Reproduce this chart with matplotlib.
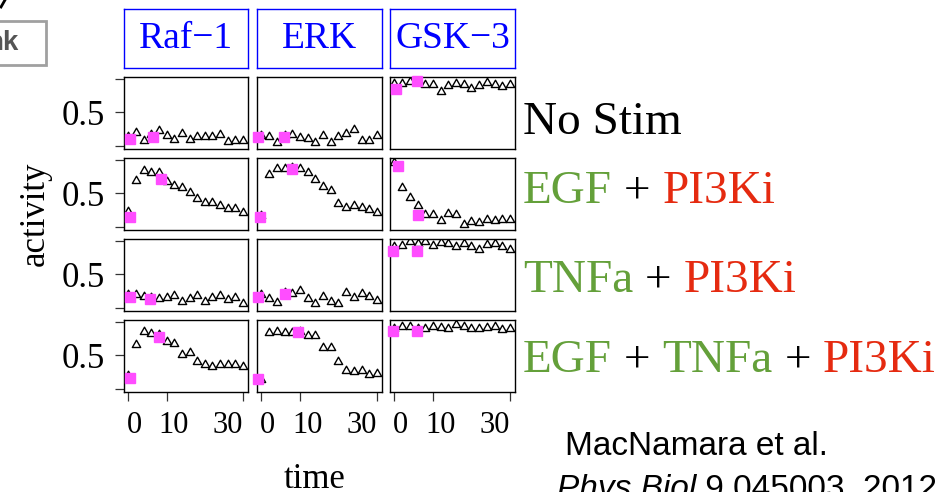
import matplotlib
matplotlib.use("Agg")
import matplotlib.pyplot as plt
from matplotlib.path import Path
from matplotlib.patches import Rectangle
from matplotlib.lines import Line2D

# time points (min) of the measured triangles
time = [0, 2, 4, 6, 8, 10, 12, 14, 16, 18, 20, 22, 24, 26, 28, 30]

proteins = ["Raf\u22121", "ERK", "GSK\u22123"]

# row 1: no stimulation
raf_nostim = [0.10, 0.165, 0.05, 0.13, 0.19, 0.115, 0.065, 0.15, 0.065, 0.10, 0.10, 0.10, 0.13, 0.03, 0.04, 0.04]
erk_nostim = [0.12, 0.10, 0.015, 0.12, 0.14, 0.09, 0.08, 0.015, 0.115, 0.015, 0.10, 0.15, 0.215, 0.05, 0.05, 0.115]
gsk_nostim = [0.90, 0.90, 0.93, 0.95, 0.88, 0.88, 0.78, 0.865, 0.89, 0.88, 0.815, 0.865, 0.915, 0.88, 0.85, 0.88]
# row 2: EGF + PI3Ki
raf_egf = [0.20, 0.65, 0.80, 0.77, 0.77, 0.64, 0.58, 0.55, 0.48, 0.39, 0.33, 0.33, 0.28, 0.24, 0.24, 0.18]
erk_egf = [0.13, 0.75, 0.84, 0.84, 0.85, 0.84, 0.78, 0.67, 0.56, 0.51, 0.31, 0.26, 0.28, 0.26, 0.23, 0.18]
gsk_egf = [0.93, 0.55, 0.40, 0.28, 0.145, 0.155, 0.065, 0.17, 0.145, 0.005, 0.045, 0.03, 0.08, 0.055, 0.08, 0.08]
# row 3: TNFa + PI3Ki
raf_tnf = [0.16, 0.16, 0.14, 0.12, 0.10, 0.115, 0.15, 0.065, 0.10, 0.15, 0.065, 0.115, 0.15, 0.085, 0.115, 0.025]
erk_tnf = [0.17, 0.10, 0.05, 0.19, 0.175, 0.225, 0.10, 0.035, 0.135, 0.065, 0.035, 0.19, 0.115, 0.175, 0.14, 0.075]
gsk_tnf = [0.88, 0.89, 0.95, 0.92, 0.95, 0.89, 0.94, 0.93, 0.875, 0.92, 0.875, 0.835, 0.915, 0.925, 0.875, 0.835]
# row 4: EGF + TNFa + PI3Ki
raf_both = [0.17, 0.625, 0.825, 0.795, 0.78, 0.675, 0.645, 0.475, 0.51, 0.375, 0.335, 0.295, 0.325, 0.325, 0.335, 0.295]
erk_both = [0.11, 0.81, 0.825, 0.81, 0.81, 0.825, 0.76, 0.76, 0.575, 0.575, 0.375, 0.245, 0.225, 0.245, 0.175, 0.195]
gsk_both = [0.87, 0.89, 0.89, 0.87, 0.87, 0.89, 0.875, 0.87, 0.92, 0.90, 0.865, 0.865, 0.875, 0.89, 0.85, 0.86]

# pink squares (two per panel): times and values
sq_t_nostim = [[0.3, 6.5], [-1.0, 5.9], [0.5, 5.9]]
sq_v_nostim = [[0.10, 0.13], [0.13, 0.13], [0.85, 0.97]]
sq_t_egf = [[0.3, 8.6], [-0.3, 8.0], [0.8, 6.2]]
sq_v_egf = [[0.145, 0.71], [0.145, 0.86], [0.91, 0.18]]
sq_t_tnf = [[0.3, 5.7], [-1.0, 6.0], [-0.3, 5.9]]
sq_v_tnf = [[0.165, 0.13], [0.165, 0.205], [0.855, 0.855]]
sq_t_both = [[0.3, 7.9], [-1.0, 9.4], [-0.3, 5.9]]
sq_v_both = [[0.165, 0.775], [0.145, 0.855], [0.865, 0.865]]

rows = [
    ([raf_nostim, erk_nostim, gsk_nostim], sq_t_nostim, sq_v_nostim),
    ([raf_egf, erk_egf, gsk_egf], sq_t_egf, sq_v_egf),
    ([raf_tnf, erk_tnf, gsk_tnf], sq_t_tnf, sq_v_tnf),
    ([raf_both, erk_both, gsk_both], sq_t_both, sq_v_both),
]

xticks = [0, 10, 30]
xtick_labels = ["0", "10", "30"]
xtick_label_pos = [1.6, 11.9, 26.1]   # labels sit a little off their ticks

GREEN = "#64A03A"
RED = "#E52A10"
PINK = "#FF4DFF"
row_labels = [
    [("No Stim", "black")],
    [("EGF", GREEN), (" + ", "black"), ("PI3Ki", RED)],
    [("TNFa", GREEN), (" + ", "black"), ("PI3Ki", RED)],
    [("EGF", GREEN), (" + ", "black"), ("TNFa", GREEN), (" + ", "black"), ("PI3Ki", RED)],
]
label_baselines = [134, 203, 292, 372]

W, H = 939, 492
fig = plt.figure(figsize=(W / 100, H / 100), dpi=100)
SERIF = "Liberation Serif"
SANS = "Liberation Sans"


def px_axes(x0, y0, x1, y1):
    return fig.add_axes([x0 / W, 1 - y1 / H, (x1 - x0) / W, (y1 - y0) / H])


def fx(x):
    return x / W


def fy(y):
    return 1 - y / H


# open triangle sitting on its data point
tri = Path([(-1, 0), (1, 0), (0, 1.75), (-1, 0)],
           [Path.MOVETO, Path.LINETO, Path.LINETO, Path.CLOSEPOLY])

cols_px = [(124, 248), (257, 382), (390, 515)]
rows_px = [(77, 149), (158, 230), (239, 311), (320, 392)]

for r, (series, sq_t, sq_v) in enumerate(rows):
    for c, vals in enumerate(series):
        ax = px_axes(cols_px[c][0], rows_px[r][0], cols_px[c][1], rows_px[r][1])
        ax.plot(time, vals, linestyle="none", marker=tri, markersize=10.5,
                markerfacecolor="none", markeredgecolor="black", markeredgewidth=1.0)
        ax.plot(sq_t[c], sq_v[c], linestyle="none", marker="s", markersize=7.8,
                color=PINK, clip_on=False, zorder=5)
        ax.set_xlim(-1.15, 31.3)
        ax.set_ylim(-0.045, 1.03)
        for s in ax.spines.values():
            s.set_linewidth(1.0)
        ax.tick_params(direction="out", length=6.5, width=0.9, color="#333333")
        if c == 0:
            ax.set_yticks([0, 0.5, 1])
            ax.set_yticklabels(["", "0.5", ""], fontfamily=SERIF, fontsize=25)
            ax.tick_params(axis="y", pad=7)
        else:
            ax.set_yticks([])
        if r == 3:
            ax.set_xticks(xticks)
            ax.set_xticklabels([])
            # labels placed by hand, baseline about 41 px under the panel
            for xp, lab in zip(xtick_label_pos, xtick_labels):
                ax.text(xp, -(433 - 392) / 72, lab, transform=ax.get_xaxis_transform(),
                        ha="center", va="baseline", fontfamily=SERIF, fontsize=22)
        else:
            ax.set_xticks([])

# strip boxes on top
for c, name in enumerate(proteins):
    sax = px_axes(cols_px[c][0], 9, cols_px[c][1], 68)
    sax.set_xticks([])
    sax.set_yticks([])
    for s in sax.spines.values():
        s.set_edgecolor("#0000FF")
        s.set_linewidth(1.0)
    sax.text(0.5, 0.5, name, transform=sax.transAxes, ha="center", va="center",
             color="#0000FF", fontfamily=SERIF, fontsize=27)

# row labels on the right, pieces coloured separately
anchor_ax = fig.axes[0]
for r, parts in enumerate(row_labels):
    last = None
    for txt, col in parts:
        if last is None:
            last = fig.text(fx(523), fy(label_baselines[r]), txt, color=col,
                            fontfamily=SERIF, fontsize=34, ha="left", va="baseline")
        else:
            last = anchor_ax.annotate(txt, xy=(1, 0), xycoords=last, va="bottom",
                                      ha="left", color=col, fontfamily=SERIF,
                                      fontsize=34, annotation_clip=False)

# axis titles
fig.text(fx(35), fy(214), "activity", rotation=90, ha="center", va="center",
         fontfamily=SERIF, fontsize=25)
fig.text(fx(315), fy(488), "time", ha="center", va="baseline",
         fontfamily=SERIF, fontsize=25)

# citation
fig.text(fx(565), fy(455), "MacNamara et al.", ha="left", va="baseline",
         fontfamily=SANS, fontsize=24)
cit = fig.text(fx(557), fy(498), "Phys Biol", ha="left", va="baseline",
               fontfamily=SANS, fontsize=24, style="italic")
anchor_ax.annotate(" 9 045003, 2012", xy=(1, 0), xycoords=cit, va="bottom",
                   ha="left", fontfamily=SANS, fontsize=24, annotation_clip=False)

# cropped button in the top left corner
fig.patches.append(Rectangle((fx(-2), fy(65)), fx(48), (65 - 21) / H,
                             transform=fig.transFigure, fill=False,
                             edgecolor="#A0A0A0", linewidth=2))
fig.text(fx(19), fy(43), "nk", ha="right", va="center", fontfamily=SANS,
         fontsize=20, fontweight="bold", color="#555555")
fig.lines.append(Line2D([fx(1), fx(5)], [fy(7), fy(0)], transform=fig.transFigure,
                        color="black", linewidth=2))

fig.savefig("out.png", dpi=100)
